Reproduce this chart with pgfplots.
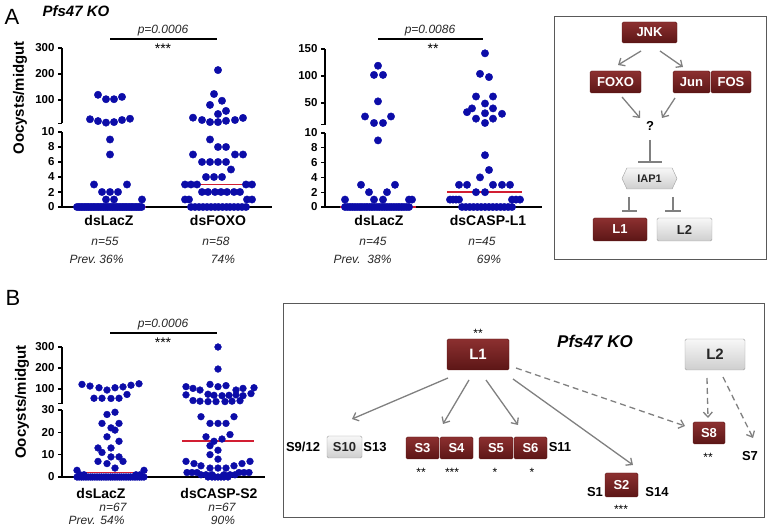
\documentclass[border=0pt]{standalone}
\usepackage{fontspec}
\setmainfont{Liberation Sans}
\usepackage{pgfplots}
\pgfplotsset{compat=1.18}
\usepackage{pgfplotstable}
\usetikzlibrary{arrows.meta,shapes.symbols}

\definecolor{dotblue}{RGB}{12,12,168}
\definecolor{medred}{RGB}{210,30,50}
\definecolor{maroonL}{RGB}{140,48,48}
\definecolor{maroonD}{RGB}{92,22,22}
\definecolor{arrowgray}{RGB}{128,128,128}

% panel A, left: dsLacZ / dsFOXO  (dx = horizontal offset in the swarm, v = oocysts)
\pgfplotstableread{
dx v
-12 120
-4 103
4 103
12 112
-20 26
-12 19
-4 13
4 15
12 23
20 28
0 9
0 7
-16 3
17 3
-8 2
0 2
8 2
-4 1
4 1
32 1
-33 0
-31.1 0
-29.2 0
-27.3 0
-25.4 0
-23.5 0
-21.6 0
-19.7 0
-17.8 0
-15.9 0
-14 0
-12.1 0
-10.2 0
-8.3 0
-6.4 0
-4.5 0
-2.6 0
-0.7 0
1.2 0
3.1 0
5 0
6.9 0
8.8 0
10.7 0
12.6 0
14.5 0
16.4 0
18.3 0
20.2 0
22.1 0
24 0
25.9 0
27.8 0
29.7 0
31.6 0
}\aLacZ

\pgfplotstableread{
dx v
0 215
-4 123
-8 81
4 97
0 46
8 58
-25 32
-16 23
-8 15
0 15
8 20
17 23
25 31
-8 9
0 8
8 8
-25 7
17 7
25 7
-16 6
-8 6
0 6
8 6
13 5
-12 4
-4 4
4 4
-33 3
-27 3
-21 3
28 3
34 3
-16 2
-10 2
-3 2
3 2
9 2
16 2
22 2
-33 1
-29 1
29 1
34 1
-27 0
-23 0
-19 0
-15 0
-11 0
-7 0
-3 0
0.5 0
4.5 0
8.5 0
12 0
16 0
20 0
24 0
28 0
}\aFOXO

% panel A, middle: dsLacZ / dsCASP-L1
\pgfplotstableread{
dx v
0 119
-4 102
5 102
0 53
-13 25
13 25
-4 13
5 13
0 9
-17 3
17 3
-9 2
9 2
-33 1
-4 1
5 1
31 1
34 1
-33 0
-30.5 0
-28.1 0
-25.6 0
-23.2 0
-20.7 0
-18.2 0
-15.8 0
-13.3 0
-10.9 0
-8.4 0
-5.9 0
-3.5 0
-1 0
1.4 0
3.9 0
6.4 0
8.8 0
11.3 0
13.7 0
16.2 0
18.7 0
21.1 0
23.6 0
26 0
28.5 0
31 0
}\bLacZ

\pgfplotstableread{
dx v
0 142
-5 104
4 98
-9 62
8 62
0 49
-13 40
8 40
0 31
-18 33
17 30
-9 21
8 21
0 13
0 7
4 5
-5 4
-26 3
-18 3
8 3
17 3
25 3
-9 2
0 2
-35 1
-32 1
-29 1
-26 1
27 1
31 1
35 1
-23 0
-19.2 0
-15.3 0
-11.5 0
-7.6 0
-3.8 0
0.1 0
3.9 0
7.8 0
11.6 0
15.5 0
19.3 0
23.2 0
27 0
}\bLone

% panel B: dsLacZ / dsCASP-S2
\pgfplotstableread{
dx v
-28 122
-20 114
-11 106
-3 95
5 106
13 110
21 118
29 125
-16 56
-8 56
1 55
9 56
17 74
-3 28
5 29
-8 24
1 22
5 21
9 24
-3 18
9 16
-12 13
1 13
-8 11
9 9
1 9
-12 7
13 7
-3 6
5 4
-33 3
34 3
-30 1
-26 1
26 1
30 1
-33 0
-30.8 0
-28.5 0
-26.3 0
-24.1 0
-21.8 0
-19.6 0
-17.4 0
-15.2 0
-12.9 0
-10.7 0
-8.5 0
-6.2 0
-4 0
-1.8 0
0.5 0
2.7 0
4.9 0
7.2 0
9.4 0
11.6 0
13.8 0
16.1 0
18.3 0
20.5 0
22.8 0
25 0
27.2 0
29.5 0
31.7 0
34 0
}\cLacZ

\pgfplotstableread{
dx v
0 300
0 195
-32 111
-25 103
-18 95
-8 122
0 111
8 116
18 95
25 103
36 106
-32 72
-10 75
-4 70
4 68
11 70
18 72
25 68
33 78
-25 45
-18 42
-10 40
-2 40
7 40
14 42
22 44
-17 27
16 27
-8 24
0 24
8 24
-12 18
12 19
4 17
-4 16
-8 14
0 12
-8 10
0 8
-32 7
-24 6
-17 5
-8 4
0 4
8 4
16 5
24 6
32 7
-31 2
-26 2
-21 2
21 2
26 2
31 2
-17 1
-12 1
-6 1
6 1
12 1
17 1
-10 0
-6 0
-3 0
0 0
3 0
6 0
10 0
}\cSTwo

\pgfplotsset{
  base/.style={
    scale only axis, clip=false, xmin=0,
    axis y line*=left,
    axis line style={line width=1.3pt},
    ytick align=outside, ytick pos=left,
    major tick length=4pt,
    every tick/.append style={black, line width=1.2pt},
    yticklabel style={font=\bfseries\fontsize{11.5}{12}\selectfont},
    /pgf/number format/assume math mode=true,
  },
  lowerax/.style={base, axis x line*=bottom,
    xtick style={draw=none},
    xticklabel style={font=\bfseries\fontsize{14}{14}\selectfont, yshift=-5pt}},
  upperax/.style={base, axis x line=none, extra y tick labels={}},
  swarmA/.style={only marks, mark=*, mark size=3.7pt, dotblue, mark options={draw=dotblue, fill=dotblue}},
  swarmB/.style={only marks, mark=*, mark size=3.4pt, dotblue, mark options={draw=dotblue, fill=dotblue}},
}

\tikzset{
  mbox/.style={draw=maroonD, top color=maroonL, bottom color=maroonD, rounded corners=1.5pt,
    text=white, font=\bfseries\fontsize{13}{13}\selectfont, inner sep=0pt},
  gbox/.style={draw=gray!75, top color=gray!6, bottom color=gray!38, rounded corners=1.5pt,
    text=black!85, font=\bfseries\fontsize{13}{13}\selectfont, inner sep=0pt},
  arr/.style={arrowgray, line width=1.3pt, -{Straight Barb[length=5pt,width=9pt]}},
  darr/.style={arr, dash pattern=on 6pt off 4pt},
  tbar/.style={arrowgray, line width=1.3pt},
  lbl/.style={font=\bfseries\fontsize{13}{13}\selectfont},
  itl/.style={font=\itshape\fontsize{12}{12}\selectfont, text=black!85},
  st/.style={font=\fontsize{14}{14}\selectfont},
}

\begin{document}
\begin{tikzpicture}[x=1pt,y=1pt]
\useasboundingbox (0,0) rectangle (768,527);

% ---------------- panel A, left
\begin{axis}[lowerax, at={(62pt,320pt)}, anchor=south west, width=210pt, height=75pt,
  xmax=210, ymin=0, ymax=10, ytick={0,2,...,10},
  xtick={47,156}, xticklabels={dsLacZ,dsFOXO}]
  \addplot[color=medred, line width=1.6pt, mark=none] coordinates {(12,0) (84,0)};
  \addplot[swarmA, restrict y to domain=-1:10.5] table[x expr=\thisrow{dx}+48, y=v] {\aLacZ};
  \addplot[swarmA, restrict y to domain=-1:10.5] table[x expr=\thisrow{dx}+156, y=v] {\aFOXO};
  \addplot[color=medred, line width=1.6pt, mark=none] coordinates {(119,3) (193,3)};
\end{axis}
\begin{axis}[upperax, at={(62pt,403.6pt)}, anchor=south west, width=210pt, height=75.4pt,
  xmax=210, ymin=10, ymax=300, ytick={100,200,300}, extra y ticks={10}]
  \addplot[swarmA, restrict y to domain=10.5:1000] table[x expr=\thisrow{dx}+48, y=v] {\aLacZ};
  \addplot[swarmA, restrict y to domain=10.5:1000] table[x expr=\thisrow{dx}+156, y=v] {\aFOXO};
\end{axis}

% ---------------- panel A, middle
\begin{axis}[lowerax, at={(325pt,320pt)}, anchor=south west, width=217pt, height=74pt,
  xmax=217, ymin=0, ymax=10, ytick={0,2,...,10},
  xtick={54,163}, xticklabels={dsLacZ,dsCASP-L1}]
  \addplot[color=medred, line width=1.6pt, mark=none] coordinates {(15,0) (91,0)};
  \addplot[swarmA, restrict y to domain=-1:10.5] table[x expr=\thisrow{dx}+53, y=v] {\bLacZ};
  \addplot[swarmA, restrict y to domain=-1:10.5] table[x expr=\thisrow{dx}+160, y=v] {\bLone};
  \addplot[color=medred, line width=1.6pt, mark=none] coordinates {(122,2) (197,2)};
\end{axis}
\begin{axis}[upperax, at={(325pt,402.4pt)}, anchor=south west, width=217pt, height=75.6pt,
  xmax=217, ymin=10, ymax=150, ytick={50,100,150}, extra y ticks={10}]
  \addplot[swarmA, restrict y to domain=10.5:1000] table[x expr=\thisrow{dx}+53, y=v] {\bLacZ};
  \addplot[swarmA, restrict y to domain=10.5:1000] table[x expr=\thisrow{dx}+160, y=v] {\bLone};
\end{axis}

% ---------------- panel B
\begin{axis}[lowerax, at={(62pt,50pt)}, anchor=south west, width=203pt, height=67pt,
  xmax=203, ymin=0, ymax=30, ytick={0,10,20,30},
  xtick={39,157}, xticklabels={dsLacZ,dsCASP-S2},
  xticklabel style={yshift=-3pt}]
  \addplot[swarmB, restrict y to domain=-1:30.5] table[x expr=\thisrow{dx}+48, y=v] {\cLacZ};
  \addplot[color=medred, line width=1.6pt, mark=none] coordinates {(13,2) (85,2)};
  \addplot[swarmB, restrict y to domain=-1:30.5] table[x expr=\thisrow{dx}+156, y=v] {\cSTwo};
  \addplot[color=medred, line width=1.6pt, mark=none] coordinates {(120,16) (192,16)};
\end{axis}
\begin{axis}[upperax, at={(62pt,123.3pt)}, anchor=south west, width=203pt, height=56.7pt,
  xmax=203, ymin=30, ymax=300, ytick={100,200,300}, extra y ticks={30}]
  \addplot[swarmB, restrict y to domain=30.5:1000] table[x expr=\thisrow{dx}+48, y=v] {\cLacZ};
  \addplot[swarmB, restrict y to domain=30.5:1000] table[x expr=\thisrow{dx}+156, y=v] {\cSTwo};
\end{axis}

% ---------------- panel letters, titles, axis labels
\node[font=\fontsize{22}{22}\selectfont] at (12,510) {A};
\node[font=\bfseries\itshape\fontsize{15}{15}\selectfont] at (76,516) {Pfs47 KO};
\node[font=\fontsize{22}{22}\selectfont] at (13,229) {B};
\node[rotate=90, font=\bfseries\fontsize{15}{15}\selectfont] at (20,429) {Oocysts/midgut};
\node[rotate=90, font=\bfseries\fontsize{15}{15}\selectfont] at (22,125) {Oocysts/midgut};

% significance
\draw[line width=1.2pt] (110,488) -- (217,488);
\node[itl] at (163,496) {p=0.0006};
\node[st] at (163,478) {***};
\draw[line width=1.2pt] (378,488) -- (483,488);
\node[itl] at (430,496) {p=0.0086};
\node[st] at (433,478) {**};
\draw[line width=1.2pt] (110,194) -- (217,194);
\node[itl] at (163,202) {p=0.0006};
\node[st] at (163,184) {***};

% n and prevalence
\node[itl] at (105,286) {n=55};
\node[itl] at (216,286) {n=58};
\node[itl, anchor=west] at (66,268) {Prev.};
\node[itl, anchor=east] at (127,268) {36\%};
\node[itl] at (223,268) {74\%};
\node[itl] at (373,286) {n=45};
\node[itl] at (482,286) {n=45};
\node[itl, anchor=west] at (330,268) {Prev.};
\node[itl, anchor=east] at (395,268) {38\%};
\node[itl] at (489,268) {69\%};
\node[itl] at (113,20) {n=67};
\node[itl] at (222,20) {n=67};
\node[itl, anchor=west] at (65,7) {Prev.};
\node[itl, anchor=east] at (128,7) {54\%};
\node[itl] at (223,7) {90\%};

% ---------------- pathway box A
\draw[gray!70!black, line width=0.8pt] (554,268) rectangle (766,511);
\node[mbox, minimum width=55pt, minimum height=21pt] at (649.5,494.5) {JNK};
\node[mbox, minimum width=51pt, minimum height=22pt] at (615.5,445) {FOXO};
\node[mbox, minimum width=37pt, minimum height=22pt] at (691.5,445) {Jun};
\node[mbox, minimum width=40pt, minimum height=22pt] at (731,445) {FOS};
\draw[arr] (641,476) -- (618,462);
\draw[arr] (660,476) -- (683,460);
\draw[arr] (622,430) -- (640,409);
\draw[arr] (675,429) -- (662,409);
\node[lbl] at (650,401) {?};
\draw[tbar] (650,387) -- (650,365) (638,365) -- (662,365);
\node[gbox, shape=signal, signal to=west and east, signal pointer angle=130,
  minimum width=55pt, minimum height=21pt, rounded corners=0pt, font=\bfseries\fontsize{11}{11}\selectfont] at (649.5,348.5) {IAP1};
\draw[tbar] (629,330) -- (629,316) (622,316) -- (637,316);
\draw[tbar] (673,330) -- (673,316) (665,316) -- (681,316);
\node[mbox, minimum width=54pt, minimum height=23pt] at (620,297.5) {L1};
\node[gbox, minimum width=55pt, minimum height=23pt] at (684.5,297.5) {L2};

% ---------------- pathway box B
\draw[gray!70!black, line width=0.8pt] (283,10) rectangle (764,224);
\node[font=\fontsize{12}{12}\selectfont] at (478,194) {**};
\node[mbox, minimum width=62pt, minimum height=31pt, font=\bfseries\fontsize{15}{15}\selectfont] at (478,172.5) {L1};
\node[font=\bfseries\itshape\fontsize{17}{17}\selectfont] at (595,186) {Pfs47 KO};
\node[gbox, minimum width=60pt, minimum height=31pt, font=\bfseries\fontsize{15}{15}\selectfont] at (715,172.5) {L2};
\draw[arr] (448,149) -- (352,108);
\draw[arr] (469,147) -- (443,103);
\draw[arr] (486,147) -- (518,102);
\draw[arr] (513,148) -- (633,62);
\draw[darr] (516,159) -- (685,101);
\draw[darr] (707,149) -- (708,109);
\draw[darr] (723,150) -- (753,89);
\node[lbl] at (303,80) {S9/12};
\node[gbox, minimum width=35pt, minimum height=22pt] at (344.5,80) {S10};
\node[lbl] at (375,80) {S13};
\node[mbox, minimum width=33pt, minimum height=22pt] at (422.5,79) {S3};
\node[mbox, minimum width=33pt, minimum height=22pt] at (456.5,79) {S4};
\node[mbox, minimum width=34pt, minimum height=22pt] at (496,79) {S5};
\node[mbox, minimum width=33pt, minimum height=22pt] at (530.5,79) {S6};
\node[lbl] at (560,80) {S11};
\node[font=\fontsize{12}{12}\selectfont] at (421,55) {**};
\node[font=\fontsize{12}{12}\selectfont] at (452,55) {***};
\node[font=\fontsize{12}{12}\selectfont] at (495,55) {*};
\node[font=\fontsize{12}{12}\selectfont] at (532,55) {*};
\node[lbl] at (595,35) {S1};
\node[mbox, minimum width=33pt, minimum height=24pt] at (621.5,42) {S2};
\node[lbl] at (657,35) {S14};
\node[font=\fontsize{12}{12}\selectfont] at (621,18) {***};
\node[mbox, minimum width=32pt, minimum height=22pt] at (709,94) {S8};
\node[font=\fontsize{12}{12}\selectfont] at (708,70) {**};
\node[lbl] at (750,71) {S7};
\end{tikzpicture}
\end{document}
